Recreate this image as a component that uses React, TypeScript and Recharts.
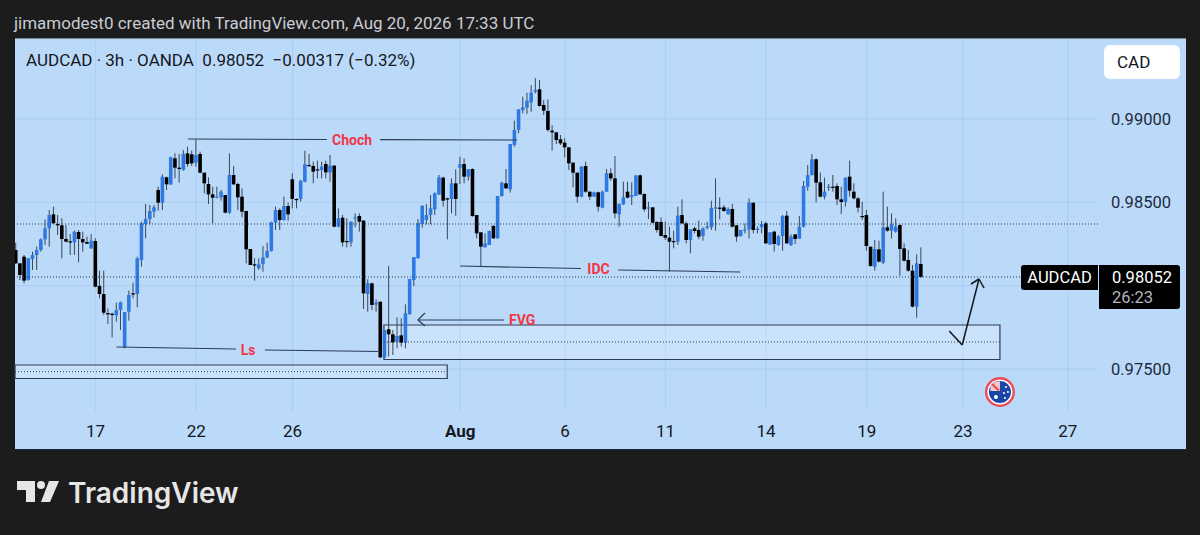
import {
  Bar,
  CartesianGrid,
  ComposedChart,
  ReferenceArea,
  ReferenceDot,
  ReferenceLine,
  XAxis,
  YAxis,
} from "recharts";

// prices are kept in points (1 point = 0.00001)
const opens = [
  98214, 98134, 98174, 98034, 98160, 98184, 98214, 98278, 98344, 98428, 98370, 98362,
  98280, 98266, 98260, 98322, 98280, 98262, 98224, 98268, 97998, 97950, 97836, 97832,
  97822, 97854, 97630, 97844, 97954, 97950, 98154, 98370, 98400, 98444, 98574, 98498,
  98650, 98608, 98764, 98708, 98694, 98794, 98788, 98738, 98790, 98678, 98610, 98548,
  98530, 98530, 98544, 98438, 98664, 98610, 98534, 98448, 98220, 98128, 98104, 98130,
  98170, 98208, 98378, 98454, 98394, 98478, 98638, 98520, 98520, 98624, 98724, 98718,
  98698, 98694, 98730, 98680, 98720, 98354, 98408, 98268, 98260, 98406, 98418, 98390,
  97950, 98014, 97886, 97904, 97570, 97738, 97708, 97664, 97702, 97658, 97830, 98034,
  98164, 98370, 98394, 98424, 98458, 98548, 98648, 98524, 98520, 98614, 98708, 98730,
  98654, 98700, 98424, 98320, 98230, 98244, 98358, 98284, 98538, 98614, 98578, 98844,
  98934, 99054, 99068, 99100, 99164, 99178, 99084, 99048, 98930, 98920, 98878, 98858,
  98830, 98738, 98678, 98534, 98718, 98564, 98534, 98560, 98468, 98564, 98674, 98644,
  98428, 98488, 98564, 98534, 98538, 98662, 98550, 98462, 98470, 98382, 98382, 98304,
  98288, 98268, 98264, 98424, 98374, 98274, 98344, 98334, 98298, 98350, 98350, 98464,
  98468, 98470, 98430, 98460, 98362, 98298, 98334, 98338, 98498, 98334, 98350, 98374,
  98248, 98324, 98244, 98298, 98420, 98244, 98308, 98282, 98354, 98594, 98664, 98758,
  98620, 98534, 98590, 98594, 98598, 98518, 98502, 98654, 98564, 98524, 98418, 98424,
  98234, 98114, 98218, 98138, 98350, 98330, 98324, 98364, 98224, 98154, 98090, 97874,
  98130,
];
const highs = [
  98258, 98134, 98184, 98164, 98204, 98234, 98284, 98398, 98454, 98474, 98424, 98404,
  98364, 98310, 98330, 98334, 98324, 98294, 98310, 98284, 98090, 98090, 97864, 97838,
  97898, 97904, 97842, 97970, 98018, 98174, 98384, 98490, 98484, 98484, 98594, 98668,
  98654, 98774, 98794, 98790, 98814, 98834, 98810, 98878, 98804, 98678, 98650, 98594,
  98594, 98574, 98544, 98794, 98718, 98618, 98584, 98448, 98220, 98164, 98164, 98238,
  98258, 98384, 98474, 98464, 98534, 98498, 98674, 98524, 98634, 98810, 98790, 98744,
  98750, 98744, 98750, 98784, 98724, 98464, 98424, 98404, 98384, 98434, 98434, 98394,
  98038, 98018, 97918, 97904, 97734, 98118, 97734, 97810, 97804, 97888, 98040, 98172,
  98400, 98484, 98490, 98544, 98560, 98664, 98654, 98528, 98644, 98698, 98774, 98764,
  98698, 98704, 98424, 98320, 98314, 98330, 98364, 98538, 98624, 98700, 98850, 98990,
  99058, 99134, 99158, 99204, 99246, 99234, 99114, 99118, 98964, 98920, 98904, 98884,
  98830, 98738, 98678, 98718, 98744, 98564, 98564, 98564, 98570, 98700, 98704, 98778,
  98494, 98624, 98624, 98620, 98662, 98668, 98554, 98504, 98470, 98386, 98410, 98384,
  98354, 98330, 98474, 98518, 98384, 98338, 98354, 98390, 98350, 98384, 98510, 98644,
  98530, 98484, 98470, 98490, 98364, 98334, 98374, 98524, 98498, 98354, 98388, 98384,
  98320, 98330, 98304, 98424, 98448, 98308, 98308, 98418, 98628, 98724, 98790, 98764,
  98680, 98648, 98610, 98664, 98614, 98594, 98650, 98750, 98614, 98530, 98504, 98454,
  98234, 98274, 98270, 98564, 98474, 98434, 98404, 98368, 98254, 98214, 98124, 98188,
  98230,
];
const lows = [
  98130, 98034, 98014, 98030, 98094, 98094, 98204, 98244, 98234, 98370, 98304, 98164,
  98260, 98184, 98184, 98140, 98204, 98250, 98220, 97990, 97924, 97824, 97770, 97690,
  97784, 97734, 97624, 97790, 97924, 97870, 98114, 98284, 98368, 98410, 98450, 98454,
  98574, 98604, 98644, 98618, 98690, 98714, 98718, 98714, 98674, 98554, 98490, 98374,
  98524, 98510, 98434, 98430, 98604, 98454, 98410, 98134, 98124, 98030, 98094, 98084,
  98164, 98204, 98334, 98334, 98390, 98390, 98464, 98464, 98504, 98620, 98714, 98614,
  98644, 98644, 98644, 98624, 98350, 98350, 98234, 98230, 98234, 98350, 98324, 97860,
  97844, 97854, 97844, 97564, 97564, 97574, 97584, 97624, 97634, 97624, 97824, 97998,
  98164, 98348, 98368, 98368, 98424, 98544, 98474, 98278, 98434, 98420, 98610, 98614,
  98630, 98414, 98284, 98114, 98230, 98244, 98280, 98280, 98534, 98580, 98558, 98834,
  98914, 99034, 99030, 99044, 99154, 99074, 99024, 98924, 98810, 98850, 98844, 98770,
  98694, 98590, 98498, 98530, 98558, 98514, 98534, 98444, 98464, 98564, 98630, 98404,
  98354, 98484, 98524, 98484, 98538, 98544, 98444, 98400, 98374, 98318, 98294, 98274,
  98084, 98224, 98244, 98370, 98254, 98194, 98314, 98278, 98270, 98338, 98334, 98330,
  98398, 98444, 98424, 98350, 98264, 98294, 98314, 98284, 98314, 98314, 98314, 98250,
  98244, 98204, 98238, 98210, 98250, 98238, 98250, 98282, 98350, 98570, 98660, 98500,
  98530, 98518, 98570, 98564, 98484, 98430, 98474, 98534, 98518, 98440, 98394, 98210,
  98114, 98090, 98140, 98130, 98324, 98284, 98318, 98060, 98144, 98084, 97870, 97808,
  98048,
];
const closes = [
  98134, 98064, 98030, 98164, 98184, 98214, 98278, 98344, 98424, 98374, 98362, 98280,
  98264, 98260, 98324, 98280, 98260, 98252, 98270, 97994, 97950, 97838, 97828, 97824,
  97854, 97900, 97842, 97944, 97950, 98164, 98374, 98400, 98448, 98470, 98498, 98654,
  98608, 98770, 98708, 98700, 98790, 98730, 98734, 98784, 98678, 98614, 98548, 98528,
  98534, 98564, 98438, 98664, 98608, 98530, 98444, 98218, 98124, 98124, 98128, 98170,
  98208, 98380, 98454, 98394, 98478, 98428, 98520, 98518, 98630, 98728, 98722, 98684,
  98694, 98714, 98680, 98720, 98354, 98404, 98260, 98262, 98384, 98410, 98384, 97954,
  98014, 97884, 97898, 97570, 97734, 97708, 97660, 97698, 97658, 97834, 98040, 98172,
  98374, 98478, 98424, 98464, 98554, 98650, 98510, 98518, 98614, 98520, 98728, 98654,
  98698, 98418, 98314, 98234, 98254, 98328, 98284, 98538, 98618, 98584, 98850, 98934,
  99058, 99070, 99110, 99158, 99174, 99078, 99050, 98934, 98920, 98874, 98854, 98830,
  98734, 98678, 98534, 98714, 98564, 98534, 98560, 98474, 98564, 98674, 98644, 98434,
  98490, 98530, 98528, 98544, 98662, 98548, 98458, 98470, 98378, 98334, 98298, 98288,
  98264, 98264, 98420, 98374, 98274, 98338, 98328, 98294, 98344, 98354, 98466, 98470,
  98464, 98448, 98460, 98354, 98294, 98334, 98338, 98498, 98334, 98342, 98370, 98254,
  98320, 98250, 98296, 98418, 98254, 98294, 98280, 98354, 98598, 98664, 98758, 98618,
  98534, 98564, 98594, 98590, 98518, 98502, 98648, 98570, 98524, 98468, 98414, 98238,
  98118, 98220, 98144, 98350, 98330, 98368, 98354, 98220, 98150, 98090, 97874, 98134,
  98052,
];

// x ticks sit on bar numbers
const tickBars = [19, 43, 66, 106, 131, 155, 179, 203, 226, 251];
const tickLabels = ["17", "22", "26", "Aug", "6", "11", "14", "19", "23", "27"];
const priceTicks = [97500, 98500, 99000];
// 0.98000 has a grid line but its label sits behind the price tag
const gridPrices = [97500, 98000, 98500, 99000];

// drawing tools: [bar, price, bar, price]
const trendLines = [
  [41, 98880, 74.2, 98877],
  [86.9, 98876, 119.6, 98874],
  [24, 97632, 52.5, 97620],
  [59.4, 97614, 86.9, 97605],
  [106, 98118, 134.8, 98103],
  [143.7, 98094, 172.8, 98082],
  [116.5, 97794, 95.9, 97794],
  [97.6, 97836, 95.9, 97794],
  [97.6, 97758, 95.9, 97794],
];
const arrowLines = [
  [222.7, 97728, 225.8, 97644],
  [225.8, 97644, 229.8, 98040],
  [227.9, 98010, 229.8, 98040],
  [231, 97986, 229.8, 98040],
];
const dottedPrices = [98370, 98052];
const zones = [
  { x1: 87.8, x2: 234.8, top: 97764, bottom: 97557, mid: 97662 },
  { x1: -0.24, x2: 102.9, top: 97524, bottom: 97443, mid: 97484 },
];
const labels = [
  { text: "Choch", bar: 80.2, price: 98876 },
  { text: "Ls", bar: 55.4, price: 97617 },
  { text: "IDC", bar: 139, price: 98098 },
  { text: "FVG", bar: 120.8, price: 97794 },
];

const data = closes.map((close, i) => ({
  bar: i,
  open: opens[i],
  high: highs[i],
  low: lows[i],
  close,
  range: [lows[i], highs[i]],
}));

const BLUE = "#2f7ae2";
const INK = "#131722";
const font = "Roboto, sans-serif";

function Candle(props: any) {
  const { x, y, width, height, payload } = props;
  const k = height / Math.max(payload.high - payload.low, 1);
  const up = payload.close >= payload.open;
  const top = y + (payload.high - Math.max(payload.open, payload.close)) * k;
  const h = Math.max(Math.abs(payload.close - payload.open) * k, 1.2);
  return (
    <g>
      <rect x={x + width / 2 - 0.5} y={y} width={1} height={height} fill="#3b4656" />
      <rect x={x} y={top} width={width} height={h} fill={up ? BLUE : "#000000"} />
    </g>
  );
}

function TimeTick(props: any) {
  const { x, y, payload } = props;
  const i = tickBars.indexOf(payload.value);
  const bold = tickLabels[i] === "Aug";
  return (
    <text
      x={x}
      y={y}
      dy={18}
      textAnchor="middle"
      fontFamily={font}
      fontSize={17}
      fontWeight={bold ? 700 : 400}
      fill={INK}
    >
      {tickLabels[i]}
    </text>
  );
}

function DrawingLabel(props: any) {
  const { cx, cy, text } = props;
  return (
    <text
      x={cx}
      y={cy}
      dy={5}
      textAnchor="middle"
      fontFamily={font}
      fontSize={14}
      fontWeight={700}
      fill="#f23645"
    >
      {text}
    </text>
  );
}

function FlagIcon(props: any) {
  const { cx, cy } = props;
  return (
    <g>
      <circle cx={cx} cy={cy} r={15} fill="#ee4a55" />
      <circle cx={cx} cy={cy} r={12.6} fill="#ffffff" />
      <circle cx={cx} cy={cy} r={11} fill="#1a47a5" />
      <path
        d={`M${cx - 9.5} ${cy - 5.5} A11 11 0 0 1 ${cx - 3} ${cy - 10.6} L${cx} ${cy - 10.6} L${cx} ${cy - 1} L${cx - 9.5} ${cy - 1} Z`}
        fill="#f6c9cc"
      />
      <path d={`M${cx - 8} ${cy - 8} L${cx - 1} ${cy - 1.5}`} stroke="#e5484d" strokeWidth={2} />
      <circle cx={cx - 4} cy={cy + 5} r={2} fill="#ffffff" />
      <circle cx={cx + 6} cy={cy - 5} r={1} fill="#ffffff" />
      <circle cx={cx + 8} cy={cy} r={1} fill="#ffffff" />
      <circle cx={cx + 4} cy={cy + 1} r={1} fill="#ffffff" />
      <circle cx={cx + 5} cy={cy + 6} r={1} fill="#ffffff" />
    </g>
  );
}

function Overlay({ left, top, children, style }: any) {
  return (
    <div
      style={{
        position: "absolute",
        left,
        top,
        fontFamily: font,
        whiteSpace: "pre",
        ...style,
      }}
    >
      {children}
    </div>
  );
}

export default function App() {
  return (
    <div
      style={{
        position: "absolute",
        left: 0,
        top: 0,
        width: 1200,
        height: 535,
        overflow: "hidden",
        background: "#1c1c1c",
      }}
    >
      <Overlay left={14} top={14} style={{ color: "#c9ccd4", fontSize: 17, lineHeight: "19px" }}>
        jimamodest0 created with TradingView.com, Aug 20, 2026 17:33 UTC
      </Overlay>
      <div
        style={{
          position: "absolute",
          left: 15,
          top: 39,
          width: 1171,
          height: 410,
          background: "#bbdafa",
          boxShadow: "0 -1px 0 #77879b, 0 1px 0 #1b2a42",
        }}
      />
      <div style={{ position: "absolute", left: 0, top: 0 }}>
        <ComposedChart
          width={1200}
          height={535}
          data={data}
          margin={{ top: 40, right: 0, bottom: 86, left: 15 }}
        >
          <CartesianGrid
            stroke="#6f9ccb"
            strokeOpacity={0.2}
            strokeWidth={1}
            horizontalValues={gridPrices}
            verticalValues={tickBars}
          />
          <XAxis
            dataKey="bar"
            type="number"
            domain={[-0.24, 258.2]}
            ticks={tickBars}
            tick={<TimeTick />}
            tickLine={false}
            axisLine={false}
            height={38}
            interval={0}
            allowDataOverflow
          />
          <YAxis
            orientation="right"
            type="number"
            domain={[97248, 99474]}
            ticks={priceTicks}
            width={102}
            tickLine={false}
            axisLine={false}
            tickMargin={7}
            tickFormatter={(v: number) => (v / 100000).toFixed(5)}
            tick={{ fill: "#1e2a3c", fontSize: 16.5, fontFamily: font }}
            allowDataOverflow
          />
          {dottedPrices.map((p) => (
            <ReferenceLine key={p} y={p} stroke="#2b3a4e" strokeDasharray="1 2" />
          ))}
          <Bar
            dataKey="range"
            barSize={3.6}
            shape={<Candle />}
            isAnimationActive={false}
          />
          {zones.map((z) => (
            <ReferenceArea
              key={z.mid}
              x1={z.x1}
              x2={z.x2}
              y1={z.bottom}
              y2={z.top}
              fill="#ffffff"
              fillOpacity={0.22}
              stroke="#2c3d55"
              strokeWidth={1.2}
              ifOverflow="visible"
            />
          ))}
          {zones.map((z) => (
            <ReferenceLine
              key={z.mid}
              segment={[
                { x: z.x1, y: z.mid },
                { x: z.x2, y: z.mid },
              ]}
              stroke="#2b3a4e"
              strokeDasharray="1 2"
            />
          ))}
          {trendLines.map((l, i) => (
            <ReferenceLine
              key={i}
              segment={[
                { x: l[0], y: l[1] },
                { x: l[2], y: l[3] },
              ]}
              stroke="#2c3d55"
              strokeWidth={1.2}
            />
          ))}
          {arrowLines.map((l, i) => (
            <ReferenceLine
              key={i}
              segment={[
                { x: l[0], y: l[1] },
                { x: l[2], y: l[3] },
              ]}
              stroke="#10151d"
              strokeWidth={1.5}
            />
          ))}
          {labels.map((l) => (
            <ReferenceDot
              key={l.text}
              x={l.bar}
              y={l.price}
              r={0}
              shape={<DrawingLabel text={l.text} />}
            />
          ))}
          <ReferenceDot x={234.8} y={97362} r={15} shape={<FlagIcon />} />
        </ComposedChart>
      </div>
      <Overlay left={26} top={51} style={{ color: INK, fontSize: 17, lineHeight: "19px" }}>
        {"AUDCAD · 3h · OANDA  0.98052  −0.00317 (−0.32%)"}
      </Overlay>
      <Overlay
        left={1104}
        top={45}
        style={{
          width: 76,
          height: 34,
          background: "#ffffff",
          borderRadius: 6,
          color: INK,
          fontSize: 17,
          lineHeight: "34px",
          textIndent: 13,
        }}
      >
        CAD
      </Overlay>
      <Overlay
        left={1021}
        top={265}
        style={{
          width: 77,
          height: 25,
          background: "#000000",
          borderRadius: "3px 0 0 3px",
          color: "#ffffff",
          fontSize: 16.5,
          lineHeight: "25px",
          textAlign: "center",
        }}
      >
        AUDCAD
      </Overlay>
      <Overlay
        left={1099}
        top={265}
        style={{
          width: 81,
          height: 44,
          background: "#000000",
          borderRadius: "0 3px 3px 0",
          color: "#ffffff",
          fontSize: 16.5,
          lineHeight: "20px",
          paddingTop: 3,
          boxSizing: "border-box",
          textIndent: 13,
        }}
      >
        0.98052
        <div style={{ color: "#b2b5be" }}>26:23</div>
      </Overlay>
      <svg
        width={60}
        height={40}
        style={{ position: "absolute", left: 0, top: 470 }}
      >
        <path d="M17 11 H35 V32 H26 V20 H17 Z" fill="#e6e6e6" />
        <circle cx={41} cy={15} r={4} fill="#e6e6e6" />
        <path d="M49 11 H59 L50 32 H41 Z" fill="#e6e6e6" />
      </svg>
      <Overlay
        left={68}
        top={476}
        style={{
          color: "#e6e6e6",
          fontFamily: "Inter, sans-serif",
          fontSize: 28,
          fontWeight: 600,
          lineHeight: "34px",
        }}
      >
        TradingView
      </Overlay>
    </div>
  );
}
